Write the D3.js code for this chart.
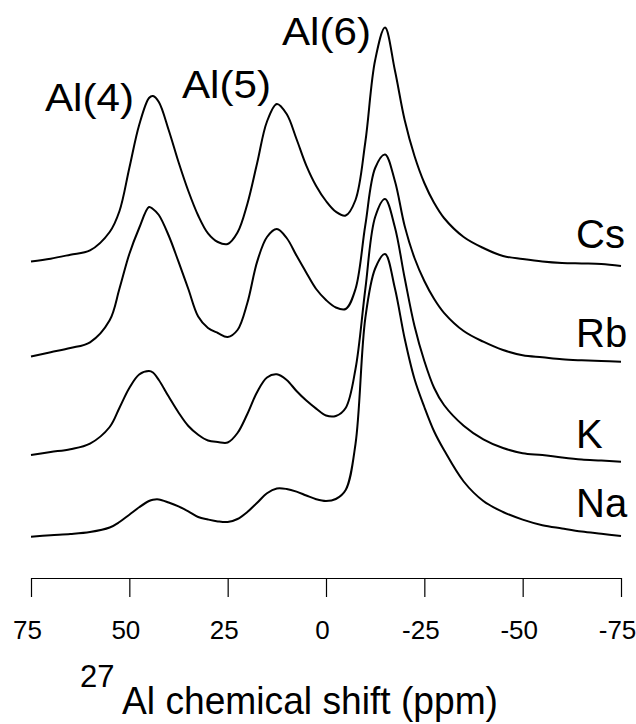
<!DOCTYPE html>
<html>
<head>
<meta charset="utf-8">
<script src="https://cdn.jsdelivr.net/npm/d3@7/dist/d3.min.js"></script>
<style>
  html, body { margin: 0; padding: 0; background: #fff; }
  svg { display: block; }
  text { font-family: "Liberation Sans", Arial, sans-serif; fill: #000; }
</style>
</head>
<body>
<svg id="chart" width="636" height="724"></svg>
<script>
// chemical shift grid (ppm), shared by all spectra
const ppm = [75,70,65,60,55,52.5,50,47.5,45,44,42.5,40,37.5,35,32.5,30,27.5,25,22.5,20,
  17.5,15,12.5,10,7.5,5,2.5,0,-2.5,-5,-7.5,-10,-12.5,-15,-17.5,-20,-22.5,-25,-27.5,-30,
  -35,-40,-45,-50,-55,-60,-65,-70,-75];

// intensities (arbitrary units, relative to each trace's own baseline)
const csValues = [0.5,3.3,7.3,11.6,30,51,94,137,164,166,160,132,100,71,46.5,28.6,20,18,29.4,58,
  99,140.5,158,148,123,96.4,76,61,50.3,46.5,62,120,202,234.5,192,142,106,79,59,44,
  25,14,6,3,0.5,-1,-1.5,-2,-4];
const rbValues = [0.5,4.8,9,14.7,36.7,68.5,103,129,150,148,142,121.5,95.3,68,40.5,29,24,20,27,54,
  95.4,120,128,119,101.4,84.3,68,57,49.5,48,68,132,189,202.5,176.2,131,99,76,58,44.2,
  26,15.3,7,1.7,-0.3,-2.3,-3.3,-4,-4.7];
const kValues = [0,3,5.8,11.4,28,47.3,67,80.5,84,82.5,75,58.4,42.5,29,20.3,14.5,13,12.5,22,41,
  63,77.5,80.7,75,64,54.4,46.4,39.5,39,47,86,166,238,256,228,177,129,94,67,50,
  29.3,15.7,7,1.8,0,-2.5,-4.5,-5.5,-6.7];
const naValues = [0.3,1.8,3,5,9.5,15,22.3,29.7,36,37.3,37.6,34.5,30.6,25.6,20,17.5,15.6,15,18,25,
  34.2,43.8,48.5,48,45.4,41.5,37.8,36,38,47,93,219,268.5,283,249,198.5,158,130,105.5,87,
  55.5,36,25,17.4,11.8,8.5,5.4,3.2,1];

const seriesNames = ["Cs", "Rb", "K", "Na"];
const seriesOffsets = [298, 203, 105, 23]; // vertical stacking offsets (same units)
const seriesData = [csValues, rbValues, kValues, naValues];

const peakLabels = ["Al(4)", "Al(5)", "Al(6)"];
const xTicks = [75, 50, 25, 0, -25, -50, -75];

const svg = d3.select("#chart");

const x = d3.scaleLinear().domain([75, -75]).range([31, 621]);
const y = d3.scaleLinear().domain([0, 560]).range([560, 0]);

const line = d3.line()
  .x(d => x(d[0]))
  .y(d => y(d[1]))
  .curve(d3.curveCatmullRom.alpha(0.5));

seriesData.forEach((vals, i) => {
  const pts = ppm.map((p, j) => [p, vals[j] + seriesOffsets[i]]);
  svg.append("path")
    .datum(pts)
    .attr("d", line)
    .attr("fill", "none")
    .attr("stroke", "#000")
    .attr("stroke-width", 2)
    .attr("stroke-linejoin", "round");
});

// series labels
const labelBaselines = [248, 347, 448, 517];
seriesNames.forEach((n, i) => {
  svg.append("text")
    .attr("x", 576)
    .attr("y", labelBaselines[i])
    .attr("font-size", 40)
    .text(n);
});

// peak labels
const peakLabelPos = [[45, 111], [182, 98], [282, 45]];
peakLabels.forEach((t, i) => {
  svg.append("text")
    .attr("x", peakLabelPos[i][0])
    .attr("y", peakLabelPos[i][1])
    .attr("font-size", 39)
    .attr("textLength", 89)
    .attr("lengthAdjust", "spacingAndGlyphs")
    .text(t);
});

// x axis
const axis = d3.axisBottom(x)
  .tickValues(xTicks)
  .tickSize(19)
  .tickSizeOuter(0)
  .tickFormat(d => String(d));

const gAxis = svg.append("g")
  .attr("transform", "translate(0,578)")
  .call(axis);
gAxis.select(".domain").attr("stroke", "#000").attr("stroke-width", 1.2);
gAxis.selectAll(".tick line").attr("stroke", "#000").attr("stroke-width", 1.2);
gAxis.selectAll(".tick text")
  .attr("y", 61)
  .attr("dy", 0)
  .attr("dx", -4)
  .attr("font-size", 26)
  .attr("font-family", "'Liberation Sans', Arial, sans-serif")
  .attr("fill", "#000");

// axis title
svg.append("text")
  .attr("x", 80)
  .attr("y", 687)
  .attr("font-size", 31)
  .text("27");
svg.append("text")
  .attr("x", 122)
  .attr("y", 714)
  .attr("font-size", 39)
  .attr("textLength", 376)
  .attr("lengthAdjust", "spacingAndGlyphs")
  .text("Al chemical shift (ppm)");
</script>
</body>
</html>
